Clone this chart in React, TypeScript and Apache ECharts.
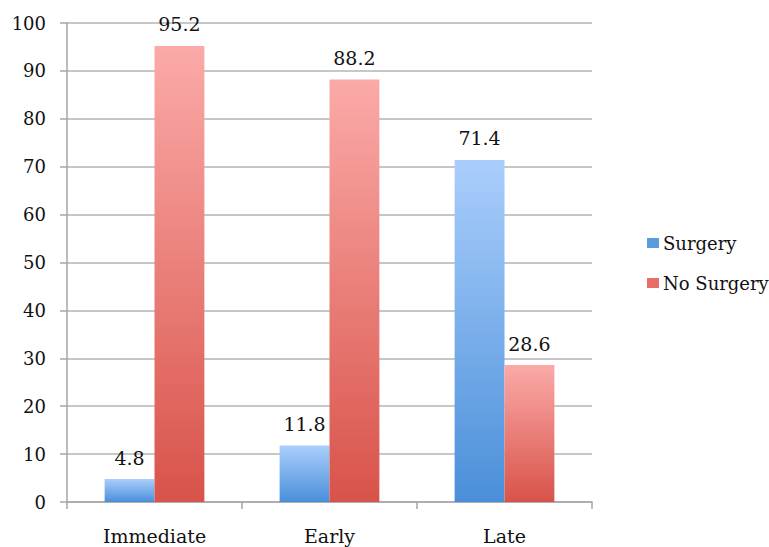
import React, { useEffect, useRef } from "react";
import * as echarts from "echarts";

const categories = ["Immediate", "Early", "Late"];
const surgery = [4.8, 11.8, 71.4];
const noSurgery = [95.2, 88.2, 28.6];
const seriesNames = ["Surgery", "No Surgery"];

const FONT = "DejaVu Serif";
const FS = 19;

export default function App() {
  const ref = useRef<HTMLDivElement>(null);
  useEffect(() => {
    if (!ref.current) return;
    const chart = echarts.init(ref.current, undefined, { renderer: "svg" });
    const blueGrad = new echarts.graphic.LinearGradient(0, 0, 0, 1, [
      { offset: 0, color: "#aacefc" },
      { offset: 1, color: "#4a8fd9" },
    ]);
    const redGrad = new echarts.graphic.LinearGradient(0, 0, 0, 1, [
      { offset: 0, color: "#fbaaa8" },
      { offset: 1, color: "#d8534a" },
    ]);
    const label = {
      show: true,
      position: "top",
      distance: 12,
      fontFamily: FONT,
      fontSize: FS,
      color: "#111",
    };
    chart.setOption({
      animation: false,
      backgroundColor: "#ffffff",
      textStyle: { fontFamily: FONT },
      grid: { left: 67, right: 177, top: 23, bottom: 45 },
      legend: {
        orient: "vertical",
        left: 642,
        top: 229,
        itemWidth: 12,
        itemHeight: 10,
        itemGap: 22,
        icon: "rect",
        textStyle: { fontFamily: FONT, fontSize: 18, color: "#111", padding: [0, 0, 0, -1] },
        data: [
          { name: seriesNames[0], itemStyle: { color: "#5b9be0" } },
          { name: seriesNames[1], itemStyle: { color: "#e66e67" } },
        ],
      },
      xAxis: {
        type: "category",
        data: categories,
        axisLine: { lineStyle: { color: "#a6a6a6", width: 1.5 } },
        axisTick: { show: true, length: 7, lineStyle: { color: "#a6a6a6", width: 1.5 } },
        axisLabel: { fontFamily: FONT, fontSize: FS, color: "#111", margin: 24 },
      },
      yAxis: {
        type: "value",
        min: 0,
        max: 100,
        interval: 10,
        axisLine: { show: true, lineStyle: { color: "#a6a6a6", width: 1.5 } },
        axisTick: { show: true, length: 7, lineStyle: { color: "#a6a6a6", width: 1.5 } },
        axisLabel: { fontFamily: FONT, fontSize: 18, color: "#111", margin: 21 },
        splitLine: { lineStyle: { color: "#b5b5b5", width: 1.5 } },
      },
      series: [
        {
          name: seriesNames[0],
          type: "bar",
          data: surgery,
          barGap: "0%",
          barCategoryGap: "43%",
          itemStyle: { color: blueGrad },
          label,
        },
        {
          name: seriesNames[1],
          type: "bar",
          data: noSurgery,
          barGap: "0%",
          barCategoryGap: "43%",
          itemStyle: { color: redGrad },
          label,
        },
      ],
    });
    return () => chart.dispose();
  }, []);
  return <div ref={ref} style={{ width: 769, height: 547, position: "absolute", left: 0, top: 0 }} />;
}
